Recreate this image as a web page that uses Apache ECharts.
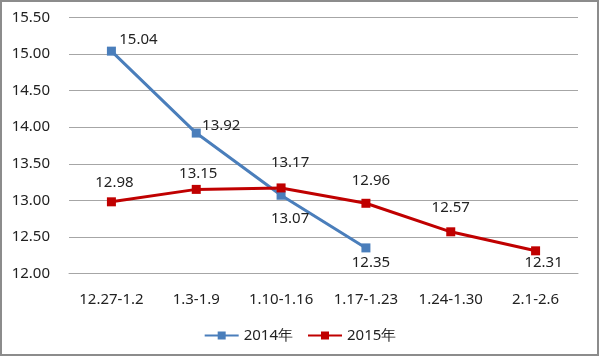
<!DOCTYPE html>
<html><head><meta charset="utf-8">
<script src="https://cdn.jsdelivr.net/npm/echarts@6/dist/echarts.min.js"></script>
<style>html,body{margin:0;padding:0;background:#fff}#c{width:600px;height:357px}</style>
</head><body><div id="c"></div>
<script>
const categories = ['12.27-1.2','1.3-1.9','1.10-1.16','1.17-1.23','1.24-1.30','2.1-2.6'];
const series2014 = [15.04, 13.92, 13.07, 12.35];
const series2015 = [12.98, 13.15, 13.17, 12.96, 12.57, 12.31];
const names = ['2014年','2015年'];
// label offsets (label centre relative to point), layout only
const off2014 = [[27,-11],[25,-7],[9,23],[5,15]];
const off2015 = [[3,-19],[2,-16],[9,-25],[5,-23],[0,-24],[8,12]];
const font = 'Noto Sans, sans-serif';
const chart = echarts.init(document.getElementById('c'));
function mk(vals, offs){
  return vals.map((v,i)=>({value:v,label:{position:'inside',offset:offs[i]}}));
}
chart.setOption({
  animation:false,
  graphic:[{type:'rect',shape:{x:1,y:1,width:597,height:354},style:{fill:'none',stroke:'#8c8c8c',lineWidth:2}}],
  grid:{left:69,right:22,top:17.5,bottom:83.5},
  legend:{top:323,left:'center',itemWidth:34,itemHeight:10,itemGap:14,
    textStyle:{fontFamily:font,fontSize:15,color:'#222'},data:names},
  xAxis:{type:'category',data:categories,axisTick:{show:false},
    axisLine:{lineStyle:{color:'#a6a6a6'}},
    axisLabel:{fontFamily:font,fontSize:15,color:'#222',margin:19}},
  yAxis:{type:'value',min:12,max:15.5,interval:0.5,
    splitLine:{lineStyle:{color:'#a6a6a6'}},
    axisLabel:{fontFamily:font,fontSize:15,color:'#222',margin:19,formatter:v=>v.toFixed(2)}},
  series:[
    {name:names[0],type:'line',data:mk(series2014,off2014),symbol:'rect',symbolSize:9,z:2,
     lineStyle:{width:3,color:'#4a7ebb'},itemStyle:{color:'#4a7ebb'},
     label:{show:true,fontFamily:font,fontSize:15,color:'#222',formatter:p=>p.value.toFixed(2)}},
    {name:names[1],type:'line',data:mk(series2015,off2015),symbol:'rect',symbolSize:9,z:3,
     lineStyle:{width:3,color:'#c00000'},itemStyle:{color:'#c00000'},
     label:{show:true,fontFamily:font,fontSize:15,color:'#222',formatter:p=>p.value.toFixed(2)}}
  ]
});
</script></body></html>
